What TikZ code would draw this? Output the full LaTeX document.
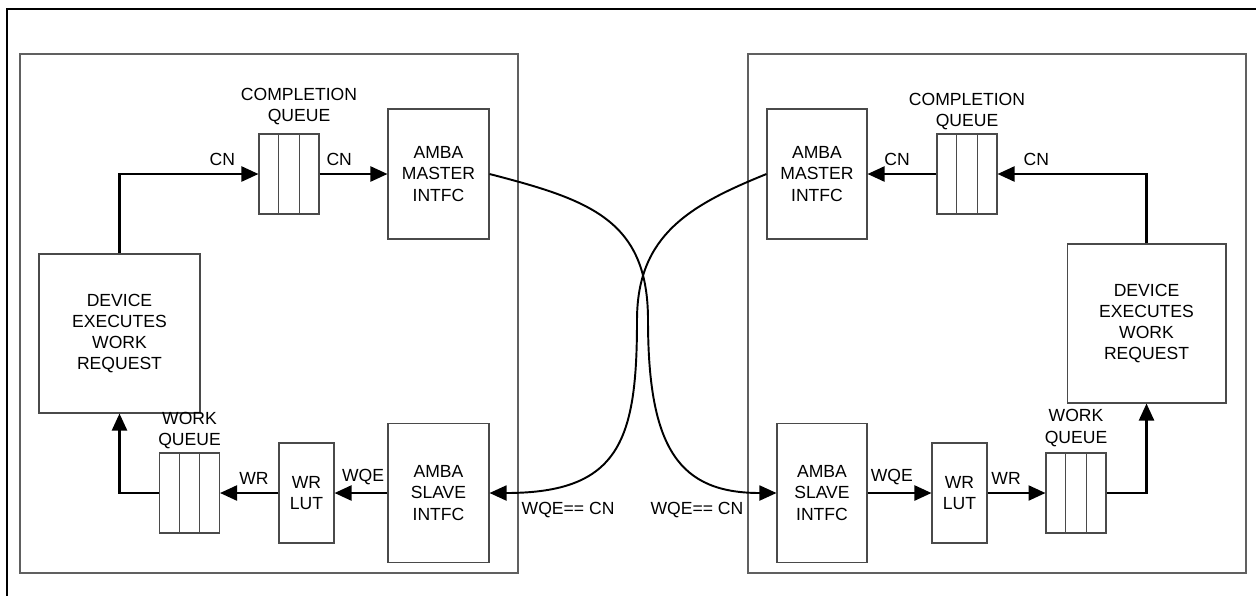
\documentclass[tikz,border=0pt]{standalone}
\usepackage{fontspec}
\setmainfont{Liberation Sans}
\usetikzlibrary{arrows.meta,positioning,calc}
\definecolor{boxgray}{HTML}{4A4A4A}
\definecolor{pnlgray}{HTML}{606060}
\tikzset{
  blk/.style={draw=boxgray,line width=0.6pt,align=center,inner sep=0pt},
  que/.style={draw=boxgray,line width=0.6pt,minimum width=1.2cm,minimum height=1.6cm,inner sep=0pt},
  pnl/.style={draw=pnlgray,line width=0.8pt,minimum width=9.96cm,minimum height=10.38cm},
  qlbl/.style={align=center,inner sep=3.3pt},
  flow/.style={line width=1.3pt,-{Triangle[length=0.34cm,width=0.3cm]}},
  link/.style={line width=1.1pt,-{Triangle[length=0.34cm,width=0.3cm]}},
  tag/.style={above,inner sep=4pt},
}

\begin{document}
\begin{tikzpicture}[x=0.02cm,y=-0.02cm,font=\fontsize{10}{12}\selectfont]
  \useasboundingbox (0,0) rectangle (1256,596);
  \draw[line width=1.4pt] (1256,9) -- (7,9) -- (7,596);
  % left side
  \node[pnl] (pnlL) at (269,313.5) {};
  \node[que] (cqL) at (289,174) {};
  \node[qlbl,above=0.05cm of cqL,xshift=0.2cm] (cqLlbl) {COMPLETION\\QUEUE};
  \node[blk,minimum width=2.02cm,minimum height=2.6cm] (msL) at (438.5,174) {AMBA\\MASTER\\INTFC};
  \node[blk,minimum width=3.22cm,minimum height=3.18cm] (devL) at (119.5,333.5)
     {DEVICE\\EXECUTES\\WORK\\REQUEST};
  \node[que] (wqL) at (189.5,493) {};
  \node[qlbl,above=-0.05cm of wqL] (wqLlbl) {WORK\\QUEUE};
  \node[blk,minimum width=1.1cm,minimum height=2cm] (lutL) at (306.5,493) {WR\\LUT};
  \node[blk,minimum width=2.02cm,minimum height=2.78cm] (slL) at (438.5,493) {AMBA\\SLAVE\\INTFC};
  % right side
  \node[pnl] (pnlR) at (997,313.5) {};
  \node[blk,minimum width=2cm,minimum height=2.6cm] (msR) at (817,174) {AMBA\\MASTER\\INTFC};
  \node[que] (cqR) at (967,174) {};
  \node[qlbl,above=-0.05cm of cqR] (cqRlbl) {COMPLETION\\QUEUE};
  \node[blk,minimum width=3.18cm,minimum height=3.18cm] (devR) at (1146.5,323.5)
     {DEVICE\\EXECUTES\\WORK\\REQUEST};
  \node[blk,minimum width=1.8cm,minimum height=2.78cm] (slR) at (822,493) {AMBA\\SLAVE\\INTFC};
  \node[blk,minimum width=1.1cm,minimum height=2cm] (lutR) at (959.5,493) {WR\\LUT};
  \node[que] (wqR) at (1076,493) {};
  \node[qlbl,above=0cm of wqR] (wqRlbl) {WORK\\QUEUE};
  % queue cells
  \foreach \q in {cqL,cqR,wqL,wqR}
    \foreach \f in {1/3,2/3}
      \draw[draw=boxgray,line width=0.6pt] ($(\q.north west)!\f!(\q.north east)$)
        -- ($(\q.south west)!\f!(\q.south east)$);
  % flows, left
  \draw[flow] (devL.north) |- node[tag,pos=0.87] (cnL1) {CN} (cqL.west);
  \draw[flow] (cqL.east) -- node[tag,pos=0.29] (cnL2) {CN} (msL.west);
  \draw[flow] (slL.west) -- node[tag,pos=0.46] (wqeL) {WQE} (lutL.east);
  \draw[flow] (lutL.west) -- node[tag,pos=0.42] (wrL) {WR} (wqL.east);
  \draw[flow] (wqL.west) -| (devL.south);
  % flows, right
  \draw[flow] (devR.north) |- node[tag,pos=0.87] (cnR1) {CN} (cqR.east);
  \draw[flow] (cqR.west) -- node[tag,pos=0.57] (cnR2) {CN} (msR.east);
  \draw[flow] (slR.east) -- node[tag,pos=0.38] (wqeR) {WQE} (lutR.west);
  \draw[flow] (lutR.east) -- node[tag,pos=0.32] (wrR) {WR} (wqR.west);
  \draw[flow] (wqR.east) -| (devR.south);
  % crossed links
  \draw[link] (msL.east) .. controls (590,200) and (648,220) .. (648,320)
     .. controls (648,450) and (680,493) .. (slR.west);
  \draw[link] (msR.west) .. controls (690,205) and (637,235) .. (637,320)
     .. controls (637,440) and (620,493) .. (slL.east);
  \node[anchor=west] (eqL) at ([xshift=0.52cm,yshift=-0.34cm]slL.east) {WQE== CN};
  \node[anchor=east] (eqR) at ([xshift=-0.54cm,yshift=-0.34cm]slR.west) {WQE== CN};
\end{tikzpicture}
\end{document}
